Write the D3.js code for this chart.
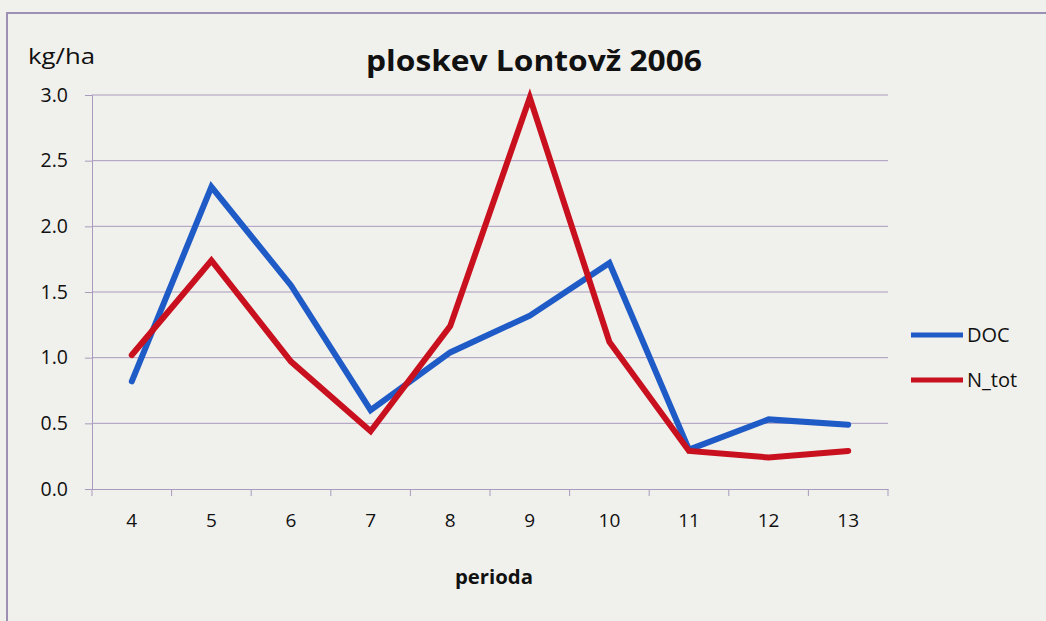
<!DOCTYPE html>
<html><head><meta charset="utf-8">
<script src="https://cdn.jsdelivr.net/npm/d3@7"></script>
<style>
html,body{margin:0;padding:0;background:#f0f0ec;}
svg{display:block;}
</style></head>
<body>
<svg id="c" width="1046" height="621"></svg>
<script>
const periods = ["4","5","6","7","8","9","10","11","12","13"];
const docValues = [0.82, 2.30, 1.55, 0.60, 1.04, 1.32, 1.72, 0.30, 0.53, 0.49];
const ntotValues = [1.02, 1.74, 0.97, 0.44, 1.24, 2.98, 1.12, 0.29, 0.24, 0.29];
const yTicks = [0, 0.5, 1.0, 1.5, 2.0, 2.5, 3.0];
const seriesNames = ["DOC", "N_tot"];
const seriesColors = ["#1f5bc6", "#c8101e"];

const svg = d3.select("#c");
const W = 1046, H = 621;
const m = {left: 92, right: 888, top: 95, bottom: 489};
const font = "'Open Sans', 'Noto Sans', sans-serif";

svg.append("rect").attr("width", W).attr("height", H).attr("fill", "#f0f0ec");
// frame
svg.append("path").attr("d", `M7,${H+5} L7,13 L${W+5},13`)
  .attr("fill", "none").attr("stroke", "#9c90b4").attr("stroke-width", 2);

const x = d3.scaleBand().domain(periods).range([m.left, m.right]);
const y = d3.scaleLinear().domain([0, 3]).range([m.bottom, m.top]);
const gridColor = "#a99bbd";

// grid lines
svg.append("g").selectAll("line").data(yTicks.filter(d => d > 0)).join("line")
  .attr("x1", m.left).attr("x2", m.right)
  .attr("y1", d => y(d)).attr("y2", d => y(d))
  .attr("stroke", gridColor).attr("stroke-width", 1);

// y axis
const yAxis = svg.append("g").attr("transform", `translate(${m.left},0)`)
  .call(d3.axisLeft(y).tickValues(yTicks).tickFormat(d3.format(".1f")).tickSize(7).tickPadding(17));
yAxis.select(".domain").attr("stroke", gridColor);
yAxis.selectAll(".tick line").attr("stroke", gridColor);
yAxis.selectAll("text").attr("font-family", font).attr("font-size", 19.5).attr("fill", "#111");

// x axis
const xAxis = svg.append("g").attr("transform", `translate(0,${m.bottom})`)
  .call(d3.axisBottom(x).tickSize(0).tickPadding(25));
xAxis.select(".domain").attr("stroke", gridColor);
xAxis.selectAll("text").attr("font-family", font).attr("font-size", 19).attr("fill", "#111");
// boundary ticks
const bounds = periods.map(p => x(p)).concat([m.right]);
svg.append("g").selectAll("line").data(bounds).join("line")
  .attr("x1", d => d).attr("x2", d => d)
  .attr("y1", m.bottom).attr("y2", m.bottom + 7)
  .attr("stroke", gridColor);

// lines
const line = d3.line().x((d, i) => x(periods[i]) + x.bandwidth() / 2).y(d => y(d));
[docValues, ntotValues].forEach((vals, k) => {
  svg.append("path").datum(vals).attr("d", line)
    .attr("fill", "none").attr("stroke", seriesColors[k])
    .attr("stroke-width", 6).attr("stroke-linejoin", "miter").attr("stroke-linecap", "round");
});

// title
svg.append("text").attr("x", 534).attr("y", 71).attr("text-anchor", "middle")
  .attr("font-family", font).attr("font-weight", "bold").attr("font-size", 29).attr("fill", "#111")
  .attr("textLength", 336).attr("lengthAdjust", "spacingAndGlyphs")
  .text("ploskev Lontovž 2006");
// y unit
svg.append("text").attr("x", 28).attr("y", 64)
  .attr("font-family", font).attr("font-size", 22).attr("fill", "#111")
  .attr("textLength", 67).attr("lengthAdjust", "spacingAndGlyphs").text("kg/ha");
// x label
svg.append("text").attr("x", 494).attr("y", 584).attr("text-anchor", "middle")
  .attr("font-family", font).attr("font-weight", "bold").attr("font-size", 20).attr("fill", "#111")
  .attr("textLength", 78).attr("lengthAdjust", "spacingAndGlyphs")
  .text("perioda");

// legend
const lg = svg.append("g");
seriesNames.forEach((n, i) => {
  const yy = 335 + i * 45;
  lg.append("line").attr("x1", 911).attr("x2", 963).attr("y1", yy).attr("y2", yy)
    .attr("stroke", seriesColors[i]).attr("stroke-width", 5);
  lg.append("text").attr("x", 967).attr("y", yy + 7)
    .attr("font-family", font).attr("font-size", 20).attr("fill", "#111").text(n);
});
</script>
</body></html>
